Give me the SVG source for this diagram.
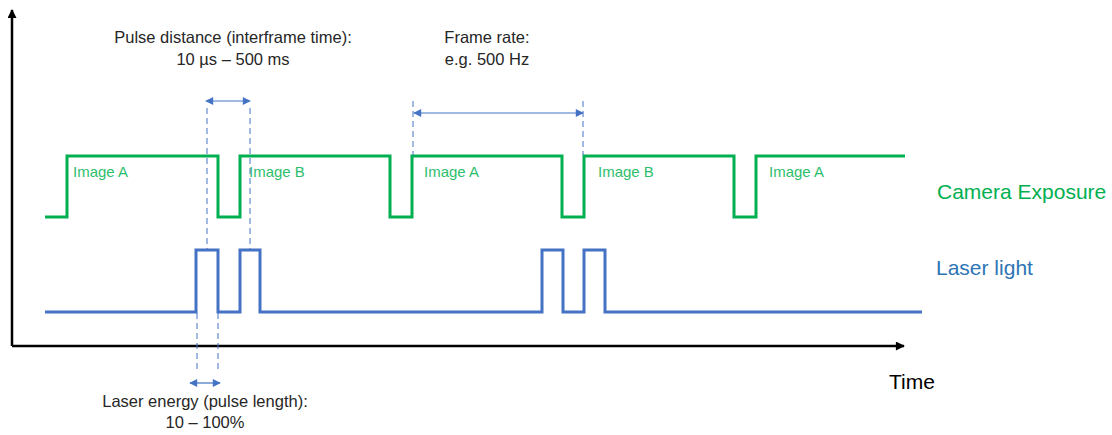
<svg xmlns="http://www.w3.org/2000/svg" width="1112" height="435" viewBox="0 0 1112 435">
<style>
.lbl{font-family:"Liberation Sans",Arial,sans-serif;font-size:16.5px;fill:#262626}
.img{font-family:"Liberation Sans",Arial,sans-serif;font-size:15px;fill:#2DBE6C}
.big{font-family:"Liberation Sans",Arial,sans-serif;font-size:21px}
.dash{stroke:#4472C4;stroke-width:1;stroke-dasharray:6,4;fill:none}
.dim{stroke:#4472C4;stroke-width:1.2;fill:none;marker-start:url(#ah);marker-end:url(#ah)}
</style>
<defs>
<marker id="ah" viewBox="0 0 10 10" refX="9" refY="5" markerWidth="10" markerHeight="8" markerUnits="userSpaceOnUse" orient="auto-start-reverse">
<path d="M0,0 L10,5 L0,10 z" fill="#4472C4"/>
</marker>
<marker id="axh" viewBox="0 0 10 10" refX="9" refY="5" markerWidth="10" markerHeight="9" markerUnits="userSpaceOnUse" orient="auto">
<path d="M0,0 L10,5 L0,10 z" fill="#000"/>
</marker>
</defs>
<rect width="1112" height="435" fill="#fff"/>
<g id="axes">
<line x1="12" y1="346" x2="12" y2="10" stroke="#000" stroke-width="2.5" marker-end="url(#axh)"/>
<line x1="12" y1="346" x2="904" y2="346" stroke="#000" stroke-width="2.5" marker-end="url(#axh)"/>
<text x="889" y="389" class="big" fill="#000">Time</text>
</g>
<g id="camera">
<polyline points="45,217 67,217 67,156 218,156 218,217 240,217 240,156 390,156 390,217 412,217 412,156 562,156 562,217 584,217 584,156 734,156 734,217 756,217 756,156 905,156" fill="none" stroke="#00B050" stroke-width="3"/>
<text x="73" y="177" class="img">Image A</text>
<text x="249" y="177" class="img">Image B</text>
<text x="424" y="177" class="img">Image A</text>
<text x="598" y="177" class="img">Image B</text>
<text x="769" y="177" class="img">Image A</text>
<text x="937" y="199" class="big" fill="#00B050">Camera  Exposure</text>
</g>
<g id="laser">
<polyline points="45,312 196,312 196,250 218,250 218,312 240,312 240,250 260,250 260,312 542,312 542,250 563,250 563,312 584,312 584,250 605,250 605,312 922,312" fill="none" stroke="#4472C4" stroke-width="3"/>
<text x="936" y="275" class="big" fill="#2E75B6">Laser light</text>
</g>
<g id="connectors">
<line class="dash" x1="207" y1="108" x2="207" y2="250"/>
<line class="dash" x1="250" y1="108" x2="250" y2="250"/>
<line class="dim" x1="206" y1="101" x2="250" y2="101"/>
<line class="dash" x1="413" y1="101" x2="413" y2="155"/>
<line class="dash" x1="583" y1="101" x2="583" y2="155"/>
<line class="dim" x1="414" y1="113" x2="583" y2="113"/>
<line class="dash" x1="197" y1="313" x2="197" y2="370"/>
<line class="dash" x1="218" y1="313" x2="218" y2="370"/>
<line class="dim" x1="190" y1="383" x2="220" y2="383"/>
</g>
<g id="labels">
<text x="233" y="43" class="lbl" text-anchor="middle">Pulse distance (interframe time):</text>
<text x="233" y="65" class="lbl" text-anchor="middle">10 µs – 500 ms</text>
<text x="487" y="43" class="lbl" text-anchor="middle">Frame rate:</text>
<text x="487" y="65" class="lbl" text-anchor="middle">e.g. 500 Hz</text>
<text x="205" y="407" class="lbl" text-anchor="middle">Laser energy (pulse length):</text>
<text x="205" y="428" class="lbl" text-anchor="middle">10 – 100%</text>
</g>
</svg>
